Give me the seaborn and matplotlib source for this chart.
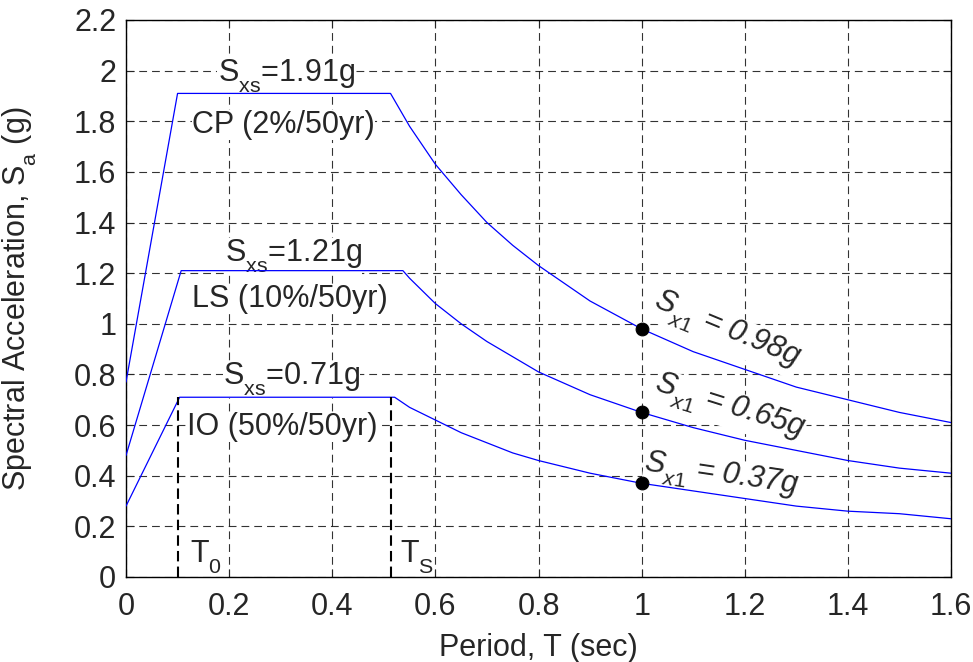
import matplotlib
matplotlib.use("Agg")
import matplotlib.pyplot as plt
import matplotlib._mathtext as _mt
import seaborn as sns
import pandas as pd

# ---- data ----
levels = ["CP (2%/50yr)", "LS (10%/50yr)", "IO (50%/50yr)"]
sxs_values = [1.91, 1.21, 0.71]
sx1_values = [0.98, 0.65, 0.37]
sxs_labels = ["1.91g", "1.21g", "0.71g"]
sx1_labels = ["0.98g", "0.65g", "0.37g"]

periods_cp = [0.0, 0.10, 0.513, 0.55, 0.60, 0.65, 0.70, 0.75, 0.80, 0.90, 1.00, 1.10, 1.20, 1.30, 1.40, 1.50, 1.60]
sa_cp = [0.77, 1.91, 1.91, 1.78, 1.63, 1.51, 1.40, 1.31, 1.23, 1.09, 0.98, 0.89, 0.82, 0.75, 0.70, 0.65, 0.61]

periods_ls = [0.0, 0.107, 0.537, 0.55, 0.60, 0.65, 0.70, 0.75, 0.80, 0.90, 1.00, 1.10, 1.20, 1.30, 1.40, 1.50, 1.60]
sa_ls = [0.48, 1.21, 1.21, 1.18, 1.08, 1.00, 0.93, 0.87, 0.81, 0.72, 0.65, 0.59, 0.54, 0.50, 0.46, 0.43, 0.41]

periods_io = [0.0, 0.104, 0.521, 0.55, 0.60, 0.65, 0.70, 0.75, 0.80, 0.90, 1.00, 1.10, 1.20, 1.30, 1.40, 1.50, 1.60]
sa_io = [0.28, 0.71, 0.71, 0.67, 0.62, 0.57, 0.53, 0.49, 0.46, 0.41, 0.37, 0.34, 0.31, 0.28, 0.26, 0.25, 0.23]

t0_value = 0.10
ts_value = 0.514
x_ticks = [0, 0.2, 0.4, 0.6, 0.8, 1.0, 1.2, 1.4, 1.6]
x_tick_labels = ["0", "0.2", "0.4", "0.6", "0.8", "1", "1.2", "1.4", "1.6"]
y_ticks = [0, 0.2, 0.4, 0.6, 0.8, 1.0, 1.2, 1.4, 1.6, 1.8, 2.0, 2.2]
y_tick_labels = ["0", "0.2", "0.4", "0.6", "0.8", "1", "1.2", "1.4", "1.6", "1.8", "2", "2.2"]

# ---- style ----
sns.set_style("ticks")
plt.rcParams["font.family"] = ["Liberation Sans", "DejaVu Sans"]
plt.rcParams["mathtext.fontset"] = "custom"
plt.rcParams["mathtext.rm"] = "Liberation Sans"
plt.rcParams["mathtext.it"] = "Liberation Sans:italic"
plt.rcParams["mathtext.bf"] = "Liberation Sans:bold"
# MATLAB-like deeper subscripts
_mt.FontConstantsBase.sub1 = 0.65

frames = []
for name, T, S in zip(levels, [periods_cp, periods_ls, periods_io], [sa_cp, sa_ls, sa_io]):
    frames.append(pd.DataFrame({"T": T, "Sa": S, "level": name}))
df = pd.concat(frames, ignore_index=True)

fig = plt.figure(figsize=(9.73, 6.62), dpi=100)
ax = fig.add_axes([0.1295, 0.1284, 0.9774 - 0.1295, 0.9698 - 0.1284])

sns.lineplot(data=df, x="T", y="Sa", hue="level", palette=["#0000ff"] * 3,
             sort=False, estimator=None, linewidth=0.9, legend=False, ax=ax, zorder=3)

# T0 / Ts markers
ax.plot([t0_value, t0_value], [0, sxs_values[2]], color="black", lw=1.5, ls=(0, (5, 2.5)), zorder=3)
ax.plot([ts_value, ts_value], [0, sxs_values[2]], color="black", lw=1.5, ls=(0, (5, 2.5)), zorder=3)

# S1 dots
sns.scatterplot(x=[1.0] * 3, y=sx1_values, color="black", s=85, edgecolor="black",
                zorder=5, ax=ax, legend=False)

FS = 22
ax.set_xlim(0, 1.6)
ax.set_ylim(0, 2.2)
ax.set_xticks(x_ticks)
ax.set_xticklabels(x_tick_labels)
ax.set_yticks(y_ticks)
ax.set_yticklabels(y_tick_labels)
ax.tick_params(axis="both", direction="in", length=6, width=0.8, labelsize=FS,
               top=True, right=True)
ax.tick_params(axis="y", pad=7)
ax.tick_params(axis="x", pad=11)
for sp in ax.spines.values():
    sp.set_visible(True)
    sp.set_linewidth(1.0)
    sp.set_color("black")
ax.grid(True, color="black", ls=(0, (7, 4.5)), lw=0.8, alpha=0.8)
ax.set_axisbelow(True)

ax.set_xlabel("Period, T (sec)", fontsize=FS, labelpad=8)
ax.set_ylabel(r"Spectral Acceleration, S$_{\rm a}$ (g)", fontsize=FS, labelpad=25)

white = dict(facecolor="white", edgecolor="none", pad=0.3)

# annotations (anchor = left end of the baseline)
sxs_pos = [(0.178, 1.955), (0.192, 1.244), (0.188, 0.758)]
lvl_pos = [(0.128, 1.754), (0.128, 1.066), (0.119, 0.561)]
for i in range(3):
    ax.text(sxs_pos[i][0], sxs_pos[i][1], r"S$_{\rm xs}$=" + sxs_labels[i], fontsize=FS,
            ha="left", va="baseline", bbox=white, zorder=2)
    ax.text(lvl_pos[i][0], lvl_pos[i][1], levels[i], fontsize=FS, ha="left",
            va="baseline", bbox=white, zorder=2)

sx1_pos = [(1.020, 1.065), (1.022, 0.735), (1.003, 0.420)]
sx1_rot = [-22.5, -17.5, -8.5]
for (x, y), r, lab in zip(sx1_pos, sx1_rot, sx1_labels):
    ax.text(x, y, r"$S_{x1}$ = " + lab, fontsize=FS, style="italic",
            rotation=r, ha="left", va="baseline", rotation_mode="anchor",
            bbox=white, zorder=2)

ax.text(0.124, 0.055, r"T$_{\rm 0}$", fontsize=FS, ha="left", va="baseline")
ax.text(0.531, 0.055, r"T$_{\rm S}$", fontsize=FS, ha="left", va="baseline")

fig.savefig("out.png", dpi=100, facecolor="white")
